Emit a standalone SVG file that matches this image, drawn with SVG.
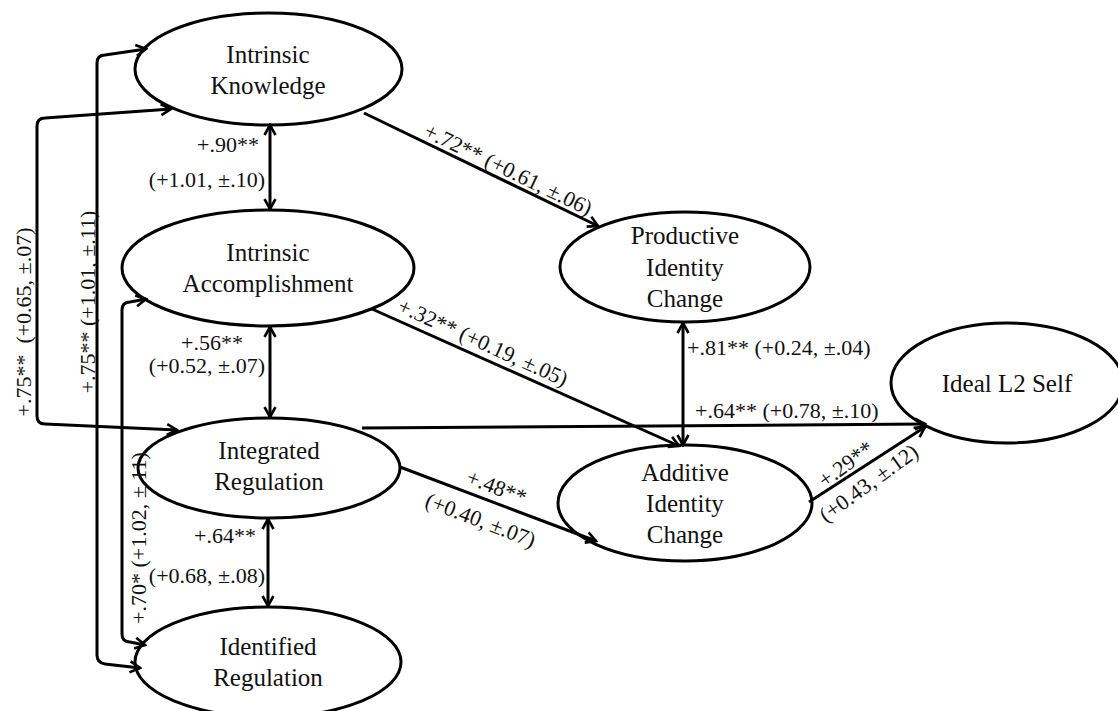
<svg xmlns="http://www.w3.org/2000/svg" width="1118" height="711" viewBox="0 0 1118 711">
<style>
.node ellipse{fill:#fff;stroke:#000;stroke-width:3}
.nt{font-family:"Liberation Serif","Times New Roman","DejaVu Serif",serif;font-size:25px;fill:#111;text-anchor:middle}
.lb{font-family:"Liberation Serif","Times New Roman","DejaVu Serif",serif;font-size:22px;fill:#111;white-space:pre}
.c path{fill:none;stroke:#000;stroke-width:3}
.one{marker-end:url(#ah)}
.two{marker-start:url(#ah);marker-end:url(#ah)}
</style>
<defs>
<marker id="ah" viewBox="0 0 14 14" refX="12" refY="7" markerWidth="14" markerHeight="14" orient="auto-start-reverse" markerUnits="userSpaceOnUse">
<path d="M2,1.5 L12,7 L2,12.5" fill="none" stroke="#000" stroke-width="2.6" stroke-linejoin="miter"/>
</marker>
</defs>
<rect width="1118" height="711" fill="#fff"/>

<g id="intrinsic-knowledge" class="node">
<ellipse cx="268.5" cy="69" rx="133.5" ry="56"/>
<text class="nt" x="268" y="63" font-family="Liberation Serif, serif">Intrinsic</text>
<text class="nt" x="268" y="94" font-family="Liberation Serif, serif">Knowledge</text>
</g>
<g id="intrinsic-accomplishment" class="node">
<ellipse cx="268" cy="268" rx="146" ry="58"/>
<text class="nt" x="268" y="261" font-family="Liberation Serif, serif">Intrinsic</text>
<text class="nt" x="268" y="292" font-family="Liberation Serif, serif">Accomplishment</text>
</g>
<g id="integrated-regulation" class="node">
<ellipse cx="269" cy="468" rx="131" ry="50"/>
<text class="nt" x="269" y="459" font-family="Liberation Serif, serif">Integrated</text>
<text class="nt" x="269" y="490" font-family="Liberation Serif, serif">Regulation</text>
</g>
<g id="identified-regulation" class="node">
<ellipse cx="268" cy="662" rx="133" ry="55"/>
<text class="nt" x="268" y="655" font-family="Liberation Serif, serif">Identified</text>
<text class="nt" x="268" y="686" font-family="Liberation Serif, serif">Regulation</text>
</g>
<g id="productive-identity-change" class="node">
<ellipse cx="685" cy="267" rx="125" ry="55"/>
<text class="nt" x="685" y="244" font-family="Liberation Serif, serif">Productive</text>
<text class="nt" x="685" y="276" font-family="Liberation Serif, serif">Identity</text>
<text class="nt" x="685" y="307" font-family="Liberation Serif, serif">Change</text>
</g>
<g id="additive-identity-change" class="node">
<ellipse cx="685" cy="503" rx="127" ry="58"/>
<text class="nt" x="685" y="481" font-family="Liberation Serif, serif">Additive</text>
<text class="nt" x="685" y="512" font-family="Liberation Serif, serif">Identity</text>
<text class="nt" x="685" y="543" font-family="Liberation Serif, serif">Change</text>
</g>
<g id="ideal-l2-self" class="node">
<ellipse cx="1007" cy="383" rx="116" ry="60"/>
<text class="nt" x="1007" y="392" font-family="Liberation Serif, serif">Ideal L2 Self</text>
</g>

<g id="connectors" class="c">
<path class="two" d="M270,125 L270,209"/>
<path class="two" d="M270,327 L270,417"/>
<path class="two" d="M268,519 L268,606"/>
<path class="two" d="M683,323 L683,445"/>
<path class="one" d="M364,113 L598,226"/>
<path class="one" d="M372,309 L679,446"/>
<path class="one" d="M362,428 L925,424"/>
<path class="one" d="M400,467 L596,541"/>
<path class="one" d="M809,502 L925,427"/>
<path class="two" d="M171,109 L45,118 Q37,118 37,126 L37,416 Q37,424 45,424 L177,430"/>
<path class="two" d="M146,49 L105,55 Q97,55 97,63 L97,655 Q97,663 105,664 L140,668"/>
<path class="two" d="M146,299 L130,302 Q122,302 122,310 L122,634 Q122,642 130,642 L145,645"/>
</g>

<g id="labels" font-family="Liberation Serif, serif">
<text class="lb" x="259" y="152" text-anchor="end">+.90**</text>
<text class="lb" x="265" y="187" text-anchor="end">(+1.01, ±.10)</text>
<text class="lb" x="243" y="350" text-anchor="end">+.56**</text>
<text class="lb" x="265" y="373" text-anchor="end">(+0.52, ±.07)</text>
<text class="lb" x="256" y="543" text-anchor="end">+.64**</text>
<text class="lb" x="265" y="583" text-anchor="end">(+0.68, ±.08)</text>
<text class="lb" x="687" y="355">+.81** (+0.24, ±.04)</text>
<text class="lb" x="695" y="418">+.64** (+0.78, ±.10)</text>
<text class="lb" text-anchor="middle" transform="translate(505,176) rotate(25.8)">+.72** (+0.61, ±.06)</text>
<text class="lb" text-anchor="middle" transform="translate(480,349) rotate(24.3)">+.32** (+0.19, ±.05)</text>
<text class="lb" text-anchor="middle" transform="translate(494,494) rotate(21)">+.48**</text>
<text class="lb" text-anchor="middle" transform="translate(478,527) rotate(21)">(+0.40, ±.07)</text>
<text class="lb" text-anchor="middle" transform="translate(850,470) rotate(-36)">+.29**</text>
<text class="lb" text-anchor="middle" transform="translate(873,489) rotate(-36)">(+0.43, ±.12)</text>
<text class="lb" text-anchor="middle" transform="translate(31,322) rotate(-90)">+.75**  (+0.65, ±.07)</text>
<text class="lb" text-anchor="middle" transform="translate(95,302) rotate(-90)">+.75** (+1.01, ±.11)</text>
<text class="lb" text-anchor="middle" transform="translate(146,538) rotate(-90)">+.70* (+1.02, ±.11)</text>
</g>
</svg>
